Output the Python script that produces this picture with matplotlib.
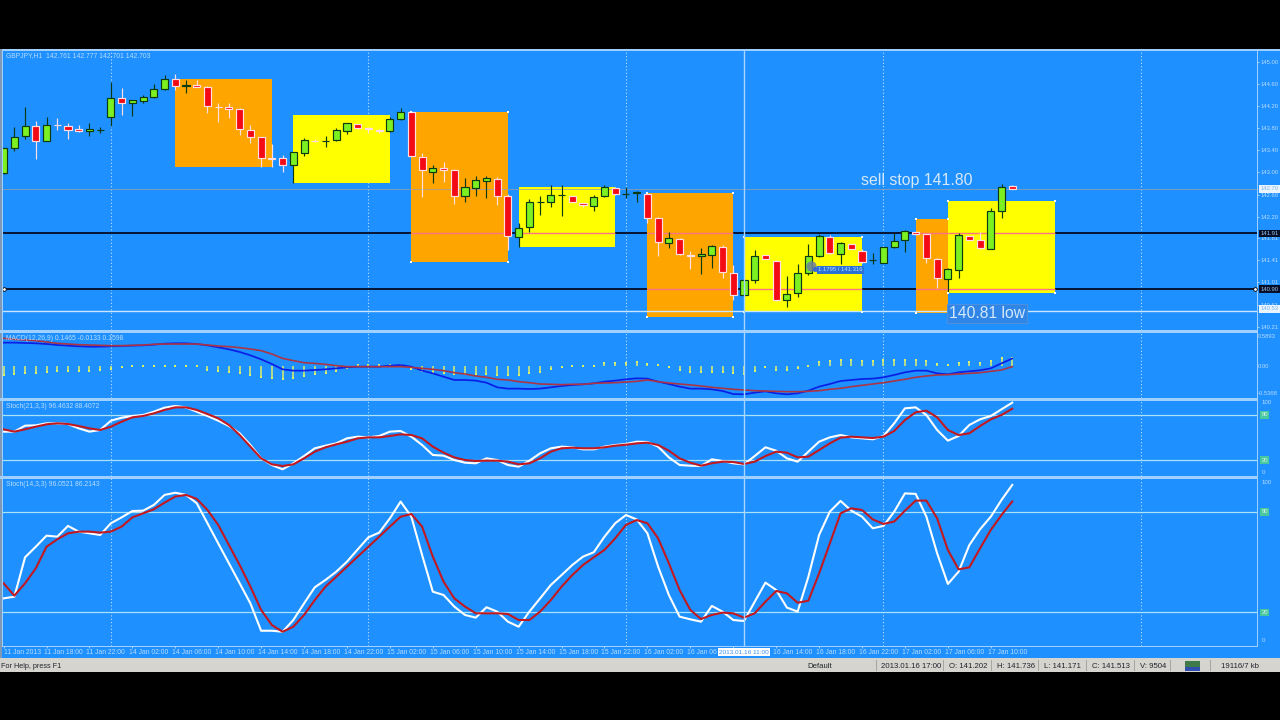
import matplotlib
matplotlib.use("Agg")
import matplotlib.pyplot as plt
from matplotlib.patches import Rectangle
from matplotlib.transforms import ScaledTranslation

plt.rcParams['font.family'] = ['Liberation Sans', 'DejaVu Sans']

opens = [142.985,143.449,143.654,143.848,143.564,143.860,143.848,143.781,143.745,143.763,
143.998,144.354,144.258,144.294,144.366,144.511,144.686,144.572,144.584,144.553,
144.191,144.191,144.143,143.769,143.636,143.256,143.256,143.130,143.347,143.576,
143.570,143.588,143.751,143.878,143.799,143.769,143.751,143.962,144.089,143.286,
143.015,143.081,143.045,142.568,142.725,142.852,142.882,142.580,141.838,142.007,
142.466,142.466,142.589,142.574,142.442,142.394,142.574,142.719,142.611,142.635,
142.617,142.170,141.724,141.790,141.513,141.483,141.507,141.658,141.187,140.783,
141.048,141.501,141.398,140.686,140.813,141.187,141.482,141.838,141.519,141.700,
141.585,141.410,141.362,141.651,141.778,141.923,141.881,141.428,141.072,141.229,
141.850,141.772,141.621,142.297,142.761]
closes = [143.437,143.648,143.848,143.570,143.866,143.854,143.775,143.751,143.793,143.769,
144.354,144.264,144.306,144.372,144.517,144.698,144.571,144.580,144.553,144.203,
144.185,144.149,143.787,143.648,143.256,143.250,143.130,143.365,143.588,143.570,
143.576,143.763,143.890,143.799,143.781,143.757,143.962,144.089,143.298,143.045,
143.087,143.045,142.580,142.731,142.858,142.894,142.580,141.850,141.995,142.460,
142.472,142.587,142.595,142.466,142.412,142.562,142.737,142.605,142.617,142.641,
142.182,141.742,141.808,141.525,141.495,141.531,141.670,141.193,140.789,141.048,
141.489,141.434,140.692,140.795,141.175,141.482,141.850,141.537,141.718,141.609,
141.386,141.416,141.645,141.766,141.941,141.887,141.458,141.090,141.247,141.863,
141.778,141.633,142.309,142.731,142.703]
highs = [143.437,143.817,144.179,143.938,144.010,143.980,143.890,143.860,143.890,143.817,
144.644,144.523,144.312,144.402,144.596,144.765,144.777,144.674,144.674,144.565,
144.264,144.264,144.161,143.860,143.648,143.510,143.317,143.377,143.618,143.600,
143.660,143.799,143.902,143.878,143.817,143.781,144.010,144.161,144.113,143.347,
143.136,143.196,143.063,142.894,142.936,142.936,142.912,142.611,142.080,142.514,
142.574,142.774,142.774,142.574,142.454,142.593,142.774,142.731,142.731,142.671,
142.653,142.200,141.929,141.808,141.585,141.627,141.688,141.682,141.326,141.054,
141.597,141.507,141.416,141.126,141.344,141.706,141.887,141.869,141.748,141.700,
141.609,141.537,141.645,141.911,141.959,141.935,141.887,141.446,141.265,141.911,
141.850,141.929,142.363,142.786,142.777]
lows = [142.973,143.389,143.600,143.238,143.564,143.769,143.600,143.727,143.666,143.709,
143.841,144.041,144.029,144.252,144.354,144.493,144.493,144.433,144.541,144.083,
143.920,143.980,143.679,143.528,143.105,143.093,143.015,142.804,143.299,143.552,
143.467,143.576,143.697,143.787,143.721,143.721,143.733,143.950,143.286,142.562,
142.804,142.834,142.424,142.472,142.574,142.532,142.412,141.597,141.657,141.929,
142.231,142.369,142.219,142.466,142.381,142.309,142.562,142.593,142.532,142.472,
142.080,141.495,141.639,141.507,141.253,141.163,141.265,141.084,140.692,140.753,
140.994,141.428,140.674,140.571,140.740,141.145,141.476,141.519,141.344,141.609,
141.368,141.344,141.356,141.639,141.567,141.875,141.356,140.903,140.813,141.090,
141.778,141.621,141.609,142.170,142.701]

macd_main = [.458,.458,.451,.445,.431,.412,.399,.386,.379,.379,
.386,.392,.399,.405,.418,.438,.445,.445,.431,.405,
.366,.327,.275,.209,.131,.039,-.065,-.091,-.091,-.078,
-.065,-.046,-.026,-.013,-.013,-.013,.007,.020,-.013,-.091,
-.144,-.209,-.274,-.274,-.287,-.327,-.418,-.444,-.444,-.451,
-.444,-.418,-.392,-.372,-.359,-.340,-.307,-.287,-.261,-.242,
-.248,-.307,-.353,-.405,-.444,-.444,-.457,-.490,-.549,-.555,
-.523,-.497,-.536,-.555,-.536,-.484,-.405,-.353,-.294,-.274,
-.255,-.248,-.222,-.176,-.124,-.091,-.091,-.144,-.163,-.124,
-.104,-.085,-.046,.052,.1465]
macd_signal = [.543,.523,.510,.497,.471,.445,.431,.418,.412,.405,
.399,.399,.405,.412,.425,.431,.431,.431,.431,.412,
.392,.379,.360,.333,.301,.235,.150,.105,.065,.052,
.033,.007,-.013,-.013,-.013,-.013,-.013,-.013,-.026,-.046,
-.065,-.091,-.131,-.157,-.196,-.222,-.261,-.274,-.307,-.327,
-.353,-.359,-.366,-.359,-.359,-.340,-.333,-.327,-.314,-.301,
-.274,-.307,-.333,-.353,-.372,-.392,-.418,-.438,-.457,-.470,
-.484,-.490,-.497,-.503,-.503,-.497,-.484,-.457,-.438,-.405,
-.379,-.353,-.327,-.294,-.261,-.222,-.196,-.176,-.170,-.157,
-.144,-.131,-.104,-.078,-.0133]
macd_hist = [-.176,-.157,-.144,-.131,-.111,-.092,-.092,-.092,-.092,-.078,
-.065,-.013,-.004,.004,.004,.006,.006,.004,-.004,-.078,
-.092,-.111,-.144,-.176,-.222,-.242,-.261,-.229,-.190,-.163,
-.131,-.092,-.033,.020,.020,.020,.013,.013,-.065,-.092,
-.111,-.131,-.157,-.163,-.163,-.163,-.176,-.176,-.176,-.144,
-.118,-.065,-.026,-.005,.003,.003,.052,.052,.065,.078,
.040,.026,-.026,-.078,-.111,-.111,-.111,-.124,-.144,-.157,
-.092,-.026,-.078,-.078,-.046,-.005,.085,.098,.118,.118,
.105,.105,.118,.118,.118,.118,.098,.033,.013,.052,
.072,.065,.092,.150,.1598]

stoch1_k = [57.8,57.8,65.8,66.2,68.9,68.9,68,62.2,57.8,60,
72.4,76.4,78.7,80,84.4,89.8,92,90.2,84.4,78.7,
72.4,65.3,55.6,40,22.2,13.3,7.6,15.6,25.3,35.6,
39.1,42.2,48.9,51.1,50.2,52,57.8,58.7,51.1,40,
26.7,25.8,20,16.4,15.6,22.2,20,13.3,11.1,19.1,
28.9,35.6,37.8,36.9,34.2,34.2,37.8,40,41.3,44.4,
44,37.8,23.5,13.3,12.4,12,20.9,18.7,15.6,14.2,
25.3,36.9,32.4,22.2,17.8,31.1,44.4,50.2,53.3,50.2,
48.9,47.6,52,68.9,88.9,90.2,80,60,45.8,52,
66.7,74.2,78.7,87.6,96.46]
stoch1_d = [60.9,57.8,60.9,64.4,67.6,68.9,68,65.3,62.2,60,
64.4,71.1,76.9,78.7,82.2,86.7,90.2,90.2,86.7,81.3,
75.6,66.7,53.3,37.8,22.2,14.2,12,14.2,22.2,31.1,
36.9,40.9,44.4,48.9,50.2,50.2,52,54.2,53.3,48.9,
37.8,29.8,23.5,20,18.7,19.1,19.1,17.8,14.2,15.6,
22.2,31.1,35.6,36.4,35.6,35.6,36.9,39.1,40.4,42.2,
43.1,40,32.4,22.2,16.4,12.4,15.6,17.8,17.3,14.7,
17.8,25.3,31.1,29.8,23.5,24.4,33.3,42.2,49.8,51.1,
50.2,49.3,51.1,58.7,73.3,83.6,85.8,76.9,60,53.3,
55.6,65.3,74.2,80,88.41]
stoch2_k = [28.4,29.4,52.9,59.2,65.8,65.2,71.6,68.2,67.2,66.2,
73.2,76.7,80.5,80.7,84.1,90.1,91.4,90.1,85.1,73.2,
61.2,49.3,37.4,25.4,9.1,9.1,8.5,15.5,25.4,35,
39.4,44.3,50.3,57.6,64.8,67.6,76.1,86.1,77.1,54.3,
32.4,30.4,23.5,18.5,16.9,23.1,20.5,14.5,11.5,20.5,
28.4,36.4,42.3,48.3,53.3,55.9,65.2,73.2,78.1,75.5,
67.2,47.3,30.4,17.5,15.9,14.5,23.9,20.5,15.5,14.9,
26.4,37.8,33.4,22.9,20.5,41.3,66.2,80.1,86.5,80.7,
77.1,70.2,71.6,80.1,91,90.7,77.1,55.3,37,44.3,
60.2,69.6,77.1,87.1,96.05]
stoch2_d = [37.4,30,37.4,46.3,59.2,63.6,67.2,68.2,68.2,67.6,
68.2,71.2,76.7,79.1,81.5,85.5,89.1,90.1,87.7,81.1,
72.2,60.2,48.3,35.4,21.5,12.5,8.5,11.5,18.5,27.4,
35.4,41.3,47.3,53.3,59.2,65.2,71.2,77.1,78.7,71.2,
53.3,38.4,28.4,23.5,19.5,19.5,19.5,19.1,15.5,15.5,
20.5,27.4,35.4,42.3,48.3,52.9,57.3,64.2,72.2,75.1,
73.2,64.2,49.3,33.4,21.5,16.1,18.5,19.9,19.5,16.9,
19.5,26.4,32.8,31.4,25.8,27,43.3,61.2,79.1,82.1,
81.1,75.5,72.8,74.2,80.7,86.7,86.7,76.1,57.3,45.7,
46.9,58.2,69.2,78.1,86.21]

# zones: first bar, last bar, upper price, lower price, colour, has handles
zone_start = [16, 27, 38, 48, 60, 69, 85, 88]
zone_end = [25, 36, 47, 57, 68, 80, 88, 98]
zone_top = [144.692, 144.04, 144.09, 142.73, 142.623, 141.84, 142.163, 142.49]
zone_bottom = [143.094, 142.815, 141.38, 141.657, 140.39, 140.475, 140.46, 140.82]
zone_colour = ['#FFA500', '#FFFF00', '#FFA500', '#FFFF00', '#FFA500', '#FFFF00', '#FFA500', '#FFFF00']
zone_handles = [False, False, True, False, True, True, True, True]

line_levels = [141.90, 140.89]
cross_price = 140.50
last_price = 142.703
price_ticks = [145.00, 144.60, 144.20, 143.80, 143.40, 143.00, 142.60, 142.20, 141.81, 141.41, 141.01, 140.61, 140.21]
grid_bars = [10, 34, 58, 82, 106]
cross_bar = 69
time_ticks = list(range(0, 96, 4))
time_labels = ['11 Jan 2013', '11 Jan 18:00', '11 Jan 22:00', '14 Jan 02:00', '14 Jan 06:00', '14 Jan 10:00',
               '14 Jan 14:00', '14 Jan 18:00', '14 Jan 22:00', '15 Jan 02:00', '15 Jan 06:00', '15 Jan 10:00',
               '15 Jan 14:00', '15 Jan 18:00', '15 Jan 22:00', '16 Jan 02:00', '16 Jan 06', '',
               '16 Jan 14:00', '16 Jan 18:00', '16 Jan 22:00', '17 Jan 02:00', '17 Jan 06:00', '17 Jan 10:00']

BLUE = '#1E90FF'
PALE = '#b8dcff'
EDGE = '#9fd0ff'
W, H = 1280, 720

fig = plt.figure(figsize=(12.8, 7.2), dpi=100, facecolor='black')


def fig_rect(x0, y0, x1, y1, colour, z=0):
    fig.add_artist(Rectangle((x0 / W, 1 - y1 / H), (x1 - x0) / W, (y1 - y0) / H,
                             transform=fig.transFigure, facecolor=colour, edgecolor='none', zorder=z))


def fig_text(x, y, s, size=4.9, colour=PALE, ha='left', **kw):
    fig.text(x / W, 1 - y / H, s, fontsize=size, color=colour, ha=ha, va='center', zorder=8, **kw)


def panel(y0, y1):
    a = fig.add_axes([3 / W, 1 - y1 / H, 1254 / W, (y1 - y0) / H], facecolor='none', zorder=3)
    a.set_xlim(-0.056, 116.81)
    for s in a.spines.values():
        s.set_visible(False)
    a.yaxis.tick_right()
    a.tick_params(axis='y', colors=PALE, labelsize=4.2, length=1.5, width=0.6, pad=0.8)
    a.tick_params(axis='x', bottom=False, labelbottom=False)
    for b in grid_bars:
        a.axvline(b, color='#c0dfff', lw=0.8, ls=(0, (1, 2)), zorder=1)
    a.axvline(cross_bar, color='#a9d5ff', lw=1.0, zorder=6)
    return a


# window furniture
fig_rect(0, 49, W, 658, BLUE)
fig_rect(0, 49, W, 51, EDGE, 1)
fig_rect(0, 49, 1.5, 658, '#7f9ab8', 1)
fig_rect(2, 51, 3, 646, EDGE, 1)
fig_rect(0, 330, 1257, 332.5, EDGE, 1)
fig_rect(0, 398, 1257, 400.5, EDGE, 1)
fig_rect(0, 476, 1257, 478.5, EDGE, 1)
fig_rect(1256.5, 51, 1258, 646, EDGE, 1)
fig_rect(2, 645.5, 1258, 646.5, EDGE, 1)
fig_rect(0, 658, W, 672, '#d6d4ce', 1)

# price panel
ax = panel(51, 330)
ax.set_ylim(146.122 - 0.0181 * 330, 146.122 - 0.0181 * 51)
ax.set_yticks(price_ticks)
ax.set_yticklabels([f'{p:.2f}' for p in price_ticks])

for x0, x1, top, bot, col in zip(zone_start, zone_end, zone_top, zone_bottom, zone_colour):
    ax.add_patch(Rectangle((x0, bot), x1 - x0, top - bot, facecolor=col, edgecolor='none', zorder=2))

for lvl in line_levels:
    ax.axhline(lvl, color='#040a24', lw=1.3, zorder=1.5)
    for x0, x1, top, bot in zip(zone_start, zone_end, zone_top, zone_bottom):
        if bot < lvl < top:
            ax.plot([x0, x1], [lvl, lvl], color='#ff7484', lw=1.0, zorder=2.5, solid_capstyle='butt')
ax.axhline(last_price, color='#9a9fa8', lw=0.7, alpha=0.75, zorder=2.4)
ax.axhline(cross_price, color='#c8e6ff', lw=1.0, zorder=2.6)

for i, (o, h, l, c) in enumerate(zip(opens, highs, lows, closes)):
    up = c >= o
    edge = '#0c3a12' if up else '#ffdfe4'
    ax.vlines(i, l, h, color=edge, lw=0.85, zorder=3)
    ax.bar(i, abs(c - o), bottom=min(o, c), width=0.66,
           color='#7CF020' if up else '#F40A14', edgecolor=edge, linewidth=0.85, zorder=4)

for x0, x1, top, bot, show in zip(zone_start, zone_end, zone_top, zone_bottom, zone_handles):
    if show:
        ax.scatter([x0, x1, x0, x1], [top, top, bot, bot], s=3.5, marker='s', color='white', zorder=5, linewidths=0)

ax.scatter([116.6, 0.05], [line_levels[1]] * 2, s=7, marker='o', facecolor='white', edgecolor='black', linewidths=0.6, zorder=6)
ax.text(75.9, 141.235, '1.1795 / 141.316', fontsize=4.2, color=PALE, va='center', ha='left', zorder=3.5,
        bbox=dict(boxstyle='square,pad=0.2', facecolor='#2a72d8', edgecolor='none'))
ax.scatter([75.2], [141.31], s=55, color='#6f7f9c', alpha=0.85, linewidths=0, zorder=7)
ax.scatter([75.6], [141.25], s=14, color='#2c62e0', alpha=0.9, linewidths=0, zorder=7)

ax.text(79.9, 142.846, 'sell stop 141.80', fontsize=11.4, color='#d5e8fa', va='center', ha='left', zorder=7)
ax.text(88.1, 140.45, '140.81 low', fontsize=11.3, color='#d5e8fa', va='center', ha='left', zorder=7,
        bbox=dict(boxstyle='square,pad=0.12', facecolor='#2f86e6', edgecolor='#4f90dc', lw=0.7))


def tag(a, y, s, bg, fg):
    a.text(1.0028, y, s, transform=a.get_yaxis_transform(), fontsize=4.2, color=fg, va='center', ha='left',
           clip_on=False, zorder=9, bbox=dict(boxstyle='square,pad=0.2', facecolor=bg, edgecolor='none'))


tag(ax, last_price, '142.70', '#eaf4ff', '#7fb4e8')
tag(ax, line_levels[0], '141.91', '#06102a', '#9fc4e8')
tag(ax, line_levels[1], '140.90', '#06102a', '#9fc4e8')
tag(ax, cross_price + 0.03, '140.53', '#eaf4ff', '#7fb4e8')

# MACD panel
am = panel(332, 398)
am.set_ylim((366 - 398) / 51, (366 - 332) / 51)
am.set_yticks([0.5893, 0.0, -0.5368])
am.set_yticklabels(['0.5893', '0.00', '-0.5368'])
am.tick_params(axis='y', length=0)
bars = list(range(len(opens)))
am.vlines(bars, [0] * len(bars), macd_hist, color='#dcf06a', lw=1.1, zorder=2)
am.scatter(bars, macd_hist, s=1.6, marker='s', color='#dcf06a', linewidths=0, zorder=2)
am.plot(bars, macd_main, color='#0a1ee6', lw=1.25, zorder=3)
am.plot(bars, macd_signal, color='#ab3545', lw=1.2, zorder=4)

# stochastic panels
a1 = panel(400, 476)
a1.set_ylim((475 - 476) / 0.75, (475 - 400) / 0.75)
a2 = panel(478, 646)
a2.set_ylim(0, (646 - 478) / 1.677)
for a, k, d in ((a1, stoch1_k, stoch1_d), (a2, stoch2_k, stoch2_d)):
    for lvl in (80, 20):
        a.axhline(lvl, color='#a8e2f4', lw=0.9, zorder=1.5)
    a.plot(bars, k, color='white', lw=1.5, zorder=3, solid_joinstyle='round')
    a.plot(bars, d, color='#c2181f', lw=1.5, zorder=4, solid_joinstyle='round')
    a.set_yticks([])
    for lvl in (80, 20):
        a.text(1.0035, lvl, str(lvl), transform=a.get_yaxis_transform(), fontsize=4.2, color='#d8f4e8', va='center',
               ha='left', clip_on=False, zorder=9, bbox=dict(boxstyle='square,pad=0.25', facecolor='#48c8a0', edgecolor='none'))

fig_text(1262, 403, '100', 4.4)
fig_text(1262, 472, '0', 4.4)
fig_text(1262, 482, '100', 4.4)
fig_text(1262, 641, '0', 4.4)

# time axis
a2.set_xticks(time_ticks)
a2.set_xticklabels(time_labels)
a2.tick_params(axis='x', bottom=True, labelbottom=True, colors=PALE, labelsize=4.9, length=1.5, width=0.6, pad=1.0)
shift = ScaledTranslation(-3 / 100, 0, fig.dpi_scale_trans)
for n, lab in enumerate(a2.get_xticklabels()):
    lab.set_ha('left')
    if n:
        lab.set_transform(lab.get_transform() + shift)
a2.text(cross_bar, -3.6, '2013.01.16 11:00', fontsize=4.6, color='#3d8fe8', ha='center', va='center',
        clip_on=False, zorder=9, bbox=dict(boxstyle='square,pad=0.25', facecolor='white', edgecolor='none'))

# panel captions
fig_text(6, 56, 'GBPJPY,H1  142.761 142.777 142.701 142.703')
fig_text(6, 338, 'MACD(12,26,9) 0.1465 -0.0133 0.1598')
fig_text(6, 406, 'Stoch(21,3,3) 96.4632 88.4072')
fig_text(6, 484, 'Stoch(14,3,3) 96.0521 86.2143')

# status bar
fig_text(1, 666.5, 'For Help, press F1', 5.2, '#20242c')
for x, s in [(807, 'Default'), (881, '2013.01.16 17:00'), (949, 'O: 141.202'),
             (997, 'H: 141.736'), (1044, 'L: 141.171'), (1092, 'C: 141.513'), (1140, 'V: 9504'),
             (1221, '19116/7 kb')]:
    fig_text(x, 666.5, s, 5.6, '#20242c')
for x in (876, 943, 991, 1038, 1086, 1134, 1170, 1210):
    fig_rect(x, 660, x + 0.7, 671, '#a8a6a0', 2)
fig_rect(1185, 661, 1200, 671, '#3f7a4a', 2)
fig_rect(1185, 667, 1200, 671, '#2f4fb0', 3)

fig.savefig('out.png', dpi=100, facecolor=fig.get_facecolor())
